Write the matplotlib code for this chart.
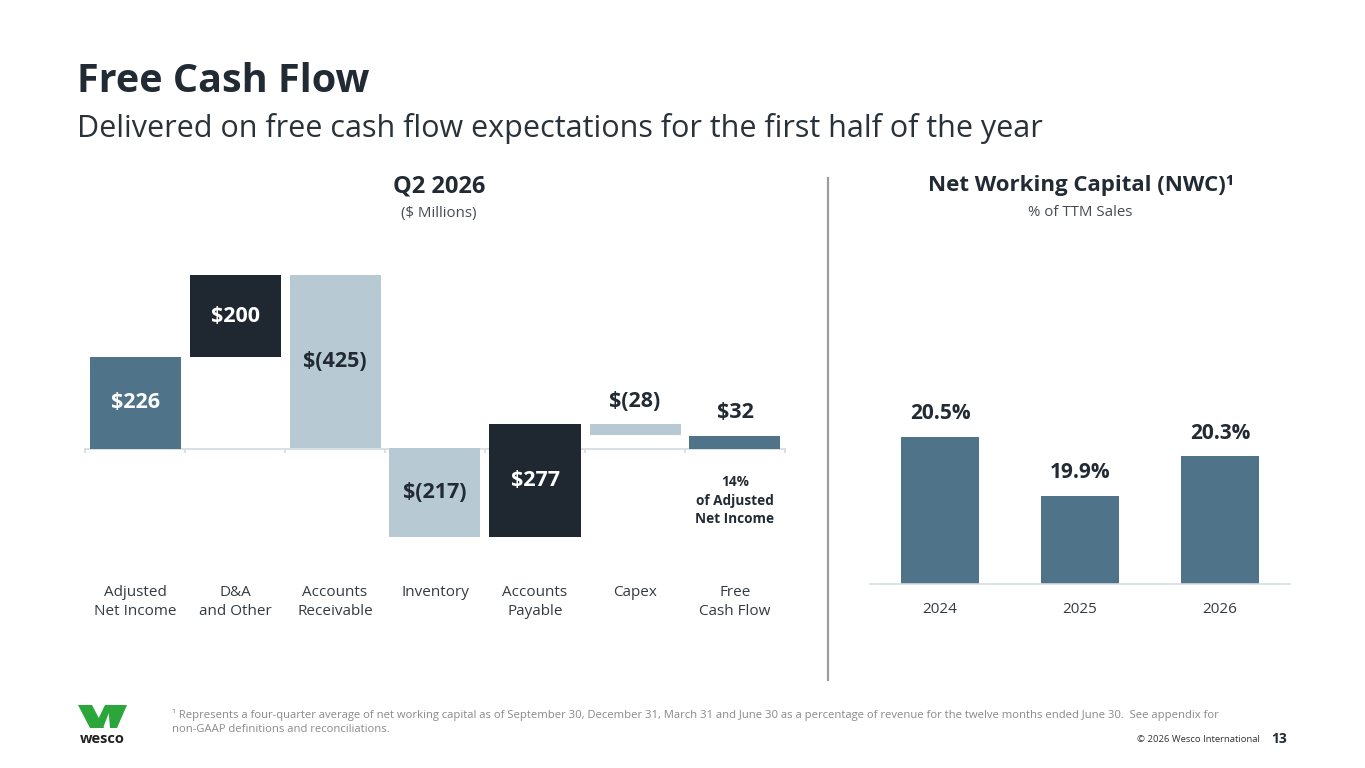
import matplotlib
matplotlib.use("Agg")
import matplotlib.pyplot as plt
from matplotlib.patches import Polygon
from matplotlib.lines import Line2D

# waterfall data ($ millions)
steps = ["Adjusted\nNet Income", "D&A\nand Other", "Accounts\nReceivable", "Inventory",
         "Accounts\nPayable", "Capex", "Free\nCash Flow"]
amounts = [226, 200, -425, -217, 277, -28, 32]
amount_labels = ["$226", "$200", "$(425)", "$(217)", "$277", "$(28)", "$32"]
fcf_note = "14%\nof Adjusted\nNet Income"

# net working capital
years = ["2024", "2025", "2026"]
nwc_pct = [20.5, 19.9, 20.3]

W, H = 1365, 768
plt.rcParams["font.family"] = ["Open Sans", "DejaVu Sans"]

DARK = "#1f2830"
STEEL = "#4f7489"
LIGHT = "#b7c9d3"
TXT = "#222b33"
GRID = "#d3dbe0"

fig = plt.figure(figsize=(W / 100, H / 100), dpi=100)


def fx(x):
    return x / W


def fy(y):
    return 1 - y / H


def box(l, t, r, b):
    return [fx(l), fy(b), fx(r) - fx(l), fy(t) - fy(b)]


# headings
fig.text(fx(77), fy(81), "Free Cash Flow", fontsize=28.5, fontweight="bold", color=TXT, va="center")
fig.text(fx(77), fy(128), "Delivered on free cash flow expectations for the first half of the year",
         fontsize=22, color="#2a3239", va="center")

fig.text(fx(439), fy(186), "Q2 2026", fontsize=17, fontweight="bold", color=TXT, ha="center", va="center")
fig.text(fx(439), fy(213), "($ Millions)", fontsize=10.8, color="#444c53", ha="center", va="center")
fig.text(fx(1081), fy(186), "Net Working Capital (NWC)\u00b9", fontsize=16, fontweight="bold",
         color=TXT, ha="center", va="center")
fig.text(fx(1080), fy(213), "% of TTM Sales", fontsize=10.8, color="#444c53", ha="center", va="center")

# divider
fig.add_artist(Line2D([fx(828), fx(828)], [fy(178), fy(680)], color="#9c9c9c", lw=1.6))

# ---- waterfall ----
ax = fig.add_axes(box(84, 260, 786, 560))
colors = [STEEL, DARK, LIGHT, LIGHT, DARK, LIGHT, STEEL]
text_cols = ["white", "white", TXT, TXT, "white", TXT, TXT]

bottoms = []
run = 0
for i, v in enumerate(amounts):
    if i == len(amounts) - 1:
        bottoms.append(0)
    else:
        bottoms.append(run if v >= 0 else run + v)
        run += v
heights = [abs(v) for v in amounts]
xs = list(range(len(steps)))
ax.bar(xs, heights, bottom=bottoms, width=0.91, color=colors, zorder=2)

for i, (b, h, lab) in enumerate(zip(bottoms, heights, amount_labels)):
    if h > 60:
        ax.text(i, b + h / 2, lab, ha="center", va="center", fontsize=15.5,
                fontweight="bold", color=text_cols[i], zorder=3)
    else:
        ax.annotate(lab, (i, b + h), xytext=(0, 9), textcoords="offset points",
                    ha="center", va="bottom", fontsize=15.5, fontweight="bold", color=TXT)

ax.annotate(fcf_note, (6, 0), xytext=(0, -19), textcoords="offset points", ha="center",
            va="top", fontsize=9.8, fontweight="bold", color=TXT, linespacing=1.4)

ax.axhline(0, color=GRID, lw=1.2, zorder=1)
ax.vlines([i - 0.5 for i in range(len(steps) + 1)], -10, 0, color=GRID, lw=1.2)
ax.set_xlim(-0.51, 6.51)
ax.set_ylim(-273, 464)
ax.set_xticks(xs, steps)
ax.tick_params(axis="x", length=0, pad=18, labelsize=11, labelcolor="#333b42")
ax.tick_params(axis="y", left=False, labelleft=False)
for lbl in ax.get_xticklabels():
    lbl.set_linespacing(1.4)
    lbl.set_va("top")
for s in ax.spines.values():
    s.set_visible(False)

# ---- NWC bars ----
ax2 = fig.add_axes(box(870, 260, 1290, 584))
ax2.bar(range(len(years)), nwc_pct, width=0.557, color=STEEL, zorder=2)
for i, v in enumerate(nwc_pct):
    ax2.annotate(f"{v:.1f}%", (i, v), xytext=(0, 9), textcoords="offset points", ha="center",
                 va="bottom", fontsize=15, fontweight="bold", color=TXT)
ax2.set_xlim(-0.5, 2.5)
ax2.set_ylim(19.0, 22.3)
ax2.set_xticks(range(len(years)), years)
ax2.tick_params(axis="x", length=0, pad=13, labelsize=11, labelcolor="#333b42")
ax2.tick_params(axis="y", left=False, labelleft=False)
for s in ["top", "left", "right"]:
    ax2.spines[s].set_visible(False)
ax2.spines["bottom"].set_color(GRID)
ax2.spines["bottom"].set_linewidth(1.2)

# ---- footer ----
fig.text(fx(172), fy(715),
         "\u00b9 Represents a four-quarter average of net working capital as of September 30, December 31, "
         "March 31 and June 30 as a percentage of revenue for the twelve months ended June 30.  See appendix for",
         fontsize=8.15, color="#8a8a8a", va="center")
fig.text(fx(172), fy(730), "non-GAAP definitions and reconciliations.", fontsize=8.15, color="#8a8a8a",
         va="center")
fig.text(fx(1260), fy(739), "\u00a9 2026 Wesco International", fontsize=6.8, color="#333", ha="right",
         va="center")
fig.text(fx(1287), fy(739), "13", fontsize=10, fontweight="bold", color=TXT, ha="right", va="center")

# logo
green = "#2aa63a"
logo = [
    [(78, 705), (92, 705), (104, 728), (90, 728)],
    [(94, 728), (105, 705), (112, 705), (103, 728)],
    [(108, 705), (113, 705), (115, 728), (110, 728)],
    [(113, 705), (127, 705), (117, 728), (110, 728)],
]
for pts in logo:
    fig.add_artist(Polygon([(fx(a), fy(b)) for a, b in pts], closed=True, color=green, lw=0))
fig.text(fx(102), fy(739), "wesco", fontsize=10.5, fontweight="bold", color="#222", ha="center",
         va="center")

fig.savefig("out.png", dpi=100)
